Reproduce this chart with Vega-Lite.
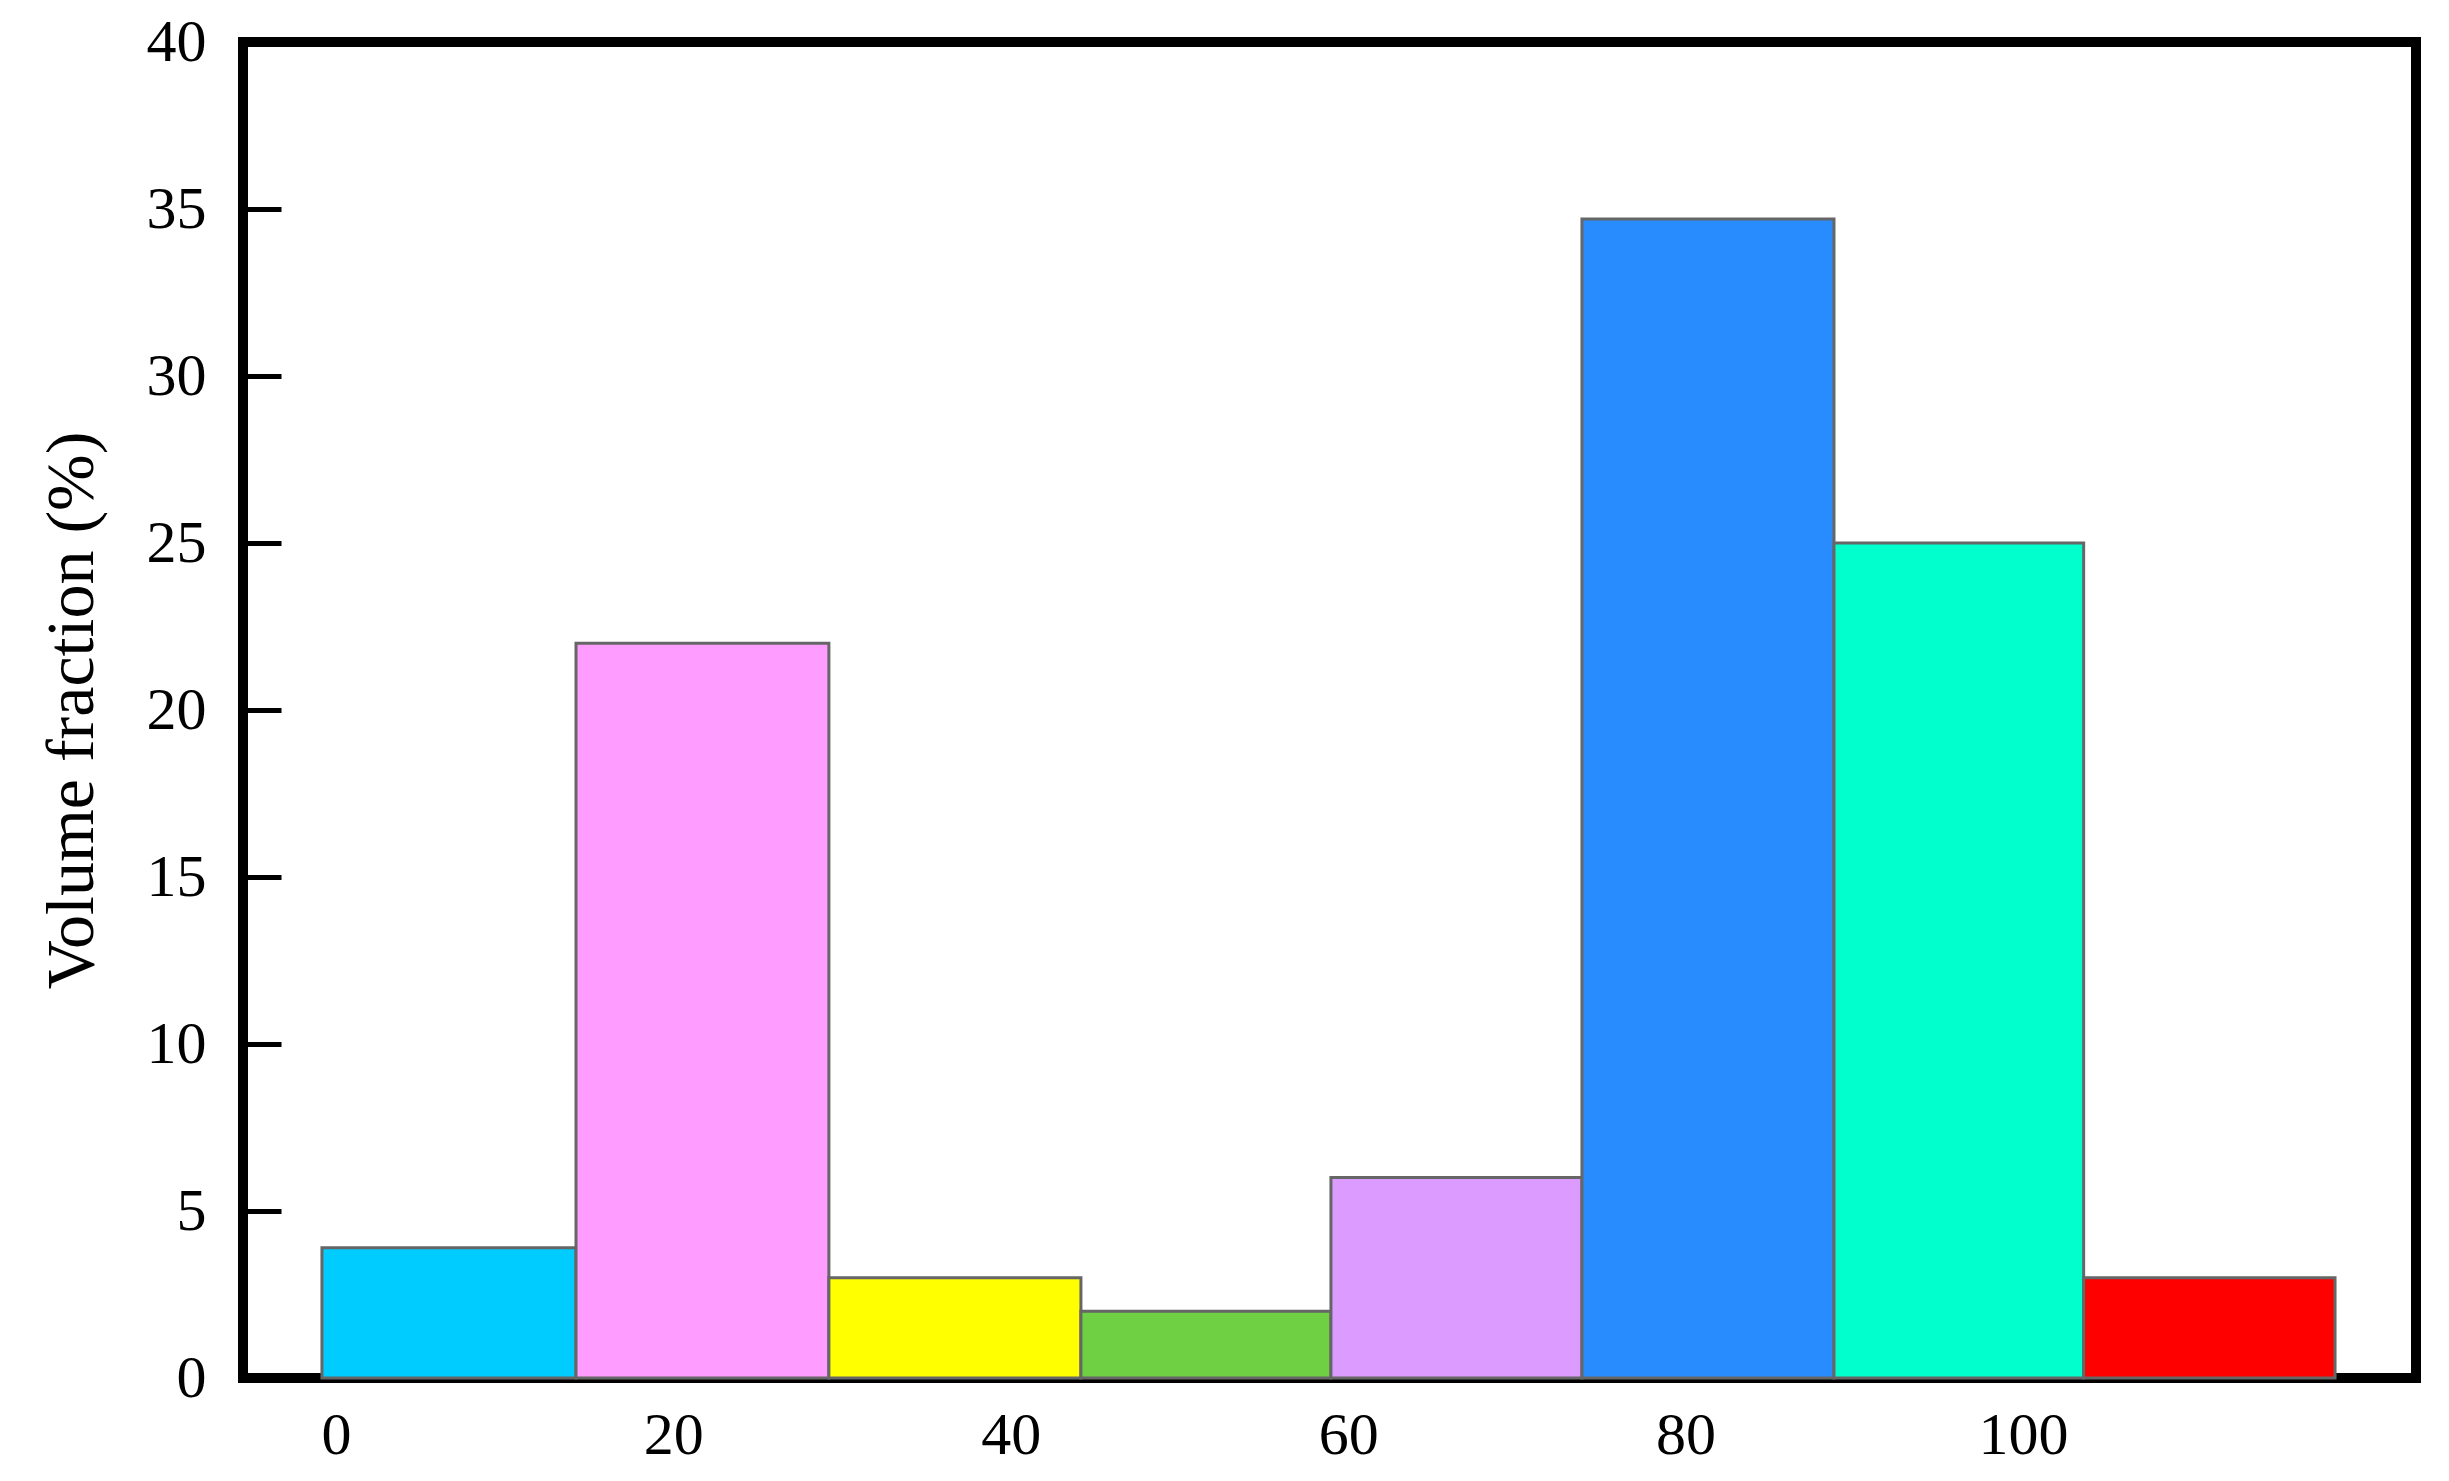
{
  "$schema": "https://vega.github.io/schema/vega-lite/v6.json",
  "width": 2173,
  "height": 1336,
  "autosize": "none",
  "padding": {"left": 243, "top": 42, "right": 33, "bottom": 103},
  "background": "white",
  "data": {
    "values": [
      {"bin": "b1", "x0": -0.83, "x1": 14.23, "value": 3.9},
      {"bin": "b2", "x0": 14.23, "x1": 29.22, "value": 22},
      {"bin": "b3", "x0": 29.22, "x1": 44.16, "value": 3},
      {"bin": "b4", "x0": 44.16, "x1": 58.98, "value": 2},
      {"bin": "b5", "x0": 58.98, "x1": 73.86, "value": 6},
      {"bin": "b6", "x0": 73.86, "x1": 88.8, "value": 34.7},
      {"bin": "b7", "x0": 88.8, "x1": 103.6, "value": 25},
      {"bin": "b8", "x0": 103.6, "x1": 118.5, "value": 3}
    ]
  },
  "mark": {"type": "rect", "stroke": "#666666", "strokeWidth": 3},
  "encoding": {
    "x": {
      "field": "x0",
      "type": "quantitative",
      "scale": {"domain": [-5.51, 123.3], "nice": false, "zero": false},
      "axis": {
        "values": [0, 20, 40, 60, 80, 100],
        "ticks": false,
        "domain": false,
        "grid": false,
        "title": null,
        "labelFontSize": 60,
        "labelPadding": 28,
        "labelFont": "Liberation Serif",
        "labelColor": "black"
      }
    },
    "x2": {"field": "x1"},
    "y": {
      "field": "value",
      "type": "quantitative",
      "scale": {"domain": [0, 40], "nice": false},
      "axis": {
        "values": [0, 5, 10, 15, 20, 25, 30, 35, 40],
        "domain": false,
        "grid": false,
        "ticks": true,
        "tickSize": -38,
        "tickWidth": 5,
        "tickColor": "black",
        "labelPadding": 75,
        "labelFontSize": 60,
        "labelFont": "Liberation Serif",
        "labelColor": "black",
        "title": "Volume fraction (%)",
        "titleFont": "Liberation Serif",
        "titleFontSize": 68,
        "titleFontWeight": "normal",
        "titleColor": "black",
        "titlePadding": 40
      }
    },
    "y2": {"datum": 0},
    "color": {
      "field": "bin",
      "type": "nominal",
      "scale": {
        "domain": ["b1", "b2", "b3", "b4", "b5", "b6", "b7", "b8"],
        "range": ["#00CCFF", "#FF9CFF", "#FFFF00", "#6ED042", "#DC9CFF", "#288CFF", "#00FFCC", "#FF0000"]
      },
      "legend": null
    }
  },
  "config": {
    "view": {"stroke": "black", "strokeWidth": 10}
  }
}
